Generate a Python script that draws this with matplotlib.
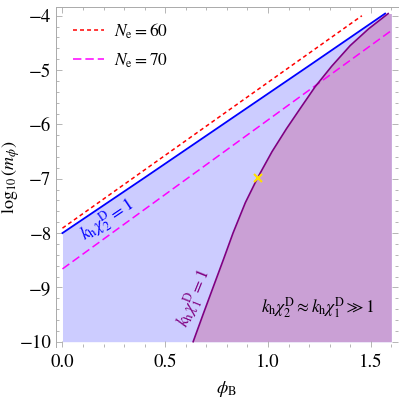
import matplotlib
matplotlib.use("Agg")
import matplotlib.pyplot as plt
from matplotlib.ticker import MultipleLocator, FormatStrFormatter
import numpy as np

plt.rcParams["font.family"] = ["STIXGeneral", "DejaVu Serif"]
plt.rcParams["mathtext.fontset"] = "stix"

# boundary k_h chi_2^D = 1 (blue line)
blue_x = [0.0, 0.4, 0.8, 1.2, 1.57]
blue_y = [-8.0, -6.98, -5.95, -4.92, -3.96]

# boundary k_h chi_1^D = 1 (purple curve)
purple_x = [0.636, 0.685, 0.733, 0.783, 0.83, 0.89, 0.95, 1.02, 1.09, 1.16, 1.229, 1.31, 1.4, 1.49, 1.585]
purple_y = [-10.0, -9.49, -9.0, -8.49, -8.0, -7.44, -6.98, -6.50, -6.08, -5.69, -5.31, -4.93, -4.55, -4.24, -3.96]

# N_e = 60 and N_e = 70 lines
ne60_x = [0.0, 1.457]
ne60_y = [-7.91, -4.0]
ne70_x = [0.0, 1.594]
ne70_y = [-8.66, -4.29]

# benchmark point
star_x = [0.95]
star_y = [-6.98]

x_max = 1.6
y_min, y_top = -10.0, -3.96

fig = plt.figure(figsize=(3.99, 3.99), dpi=100)
ax = fig.add_axes([0.1396, 0.1303, 0.858, 0.852])

# shaded regions
fx = np.append(blue_x, x_max)
fy = np.append(blue_y, y_top)
ax.fill_between(fx, y_min, fy, color="#ccccff", lw=0)
ax.fill_betweenx(purple_y, purple_x, x_max, color="#caa0d5", lw=0)

ax.plot(ne60_x, ne60_y, color="red", lw=1.1, ls=(0, (2.6, 2.0)), label=r"$N_{\mathrm{e}}=60$")
ax.plot(ne70_x, ne70_y, color="magenta", lw=1.1, ls=(0, (5.5, 2.6)), label=r"$N_{\mathrm{e}}=70$")
ax.plot(blue_x, blue_y, color="blue", lw=1.3)
ax.plot(purple_x, purple_y, color="#800080", lw=1.2)
ax.plot(star_x, star_y, "x", color="#ffe000", ms=6, mew=1.5)

ax.text(0.22, -7.76, r"$k_{\mathrm{h}}\chi_2^{\mathrm{D}}=1$", color="blue",
        fontsize=13, rotation=34, ha="center", va="center")
ax.text(0.64, -9.2, r"$k_{\mathrm{h}}\chi_1^{\mathrm{D}}=1$", color="#800080",
        fontsize=13, rotation=68, ha="center", va="center")
ax.text(1.243, -9.38, r"$k_{\mathrm{h}}\chi_2^{\mathrm{D}}\approx k_{\mathrm{h}}\chi_1^{\mathrm{D}}\gg 1$",
        color="black", fontsize=12.5, ha="center", va="center")

ax.legend(loc="upper left", bbox_to_anchor=(0.051, 0.958), frameon=False, fontsize=12.5,
          handlelength=1.75, handletextpad=0.6, labelspacing=0.6, borderpad=0, borderaxespad=0)

ax.set_xlim(-0.033, 1.633)
ax.set_ylim(-10.098, -3.84)
ax.xaxis.set_major_locator(MultipleLocator(0.5))
ax.xaxis.set_minor_locator(MultipleLocator(0.1))
ax.yaxis.set_major_locator(MultipleLocator(1))
ax.yaxis.set_minor_locator(MultipleLocator(0.2))
ax.tick_params(which="both", direction="in", top=True, right=True, color="#aaaaaa", width=0.6)
ax.tick_params(which="major", length=4, labelsize=13.5, pad=3)
ax.tick_params(which="minor", length=2)
ax.tick_params(axis="x", which="major", pad=5)
ax.xaxis.set_major_formatter(FormatStrFormatter("%.1f"))
for s in ["bottom", "right"]:
    ax.spines[s].set_visible(False)
for s in ["left", "top"]:
    ax.spines[s].set_color("#aaaaaa")
    ax.spines[s].set_linewidth(0.7)

ax.set_xlabel(r"$\phi_{\mathrm{B}}$", fontsize=13)
ax.set_ylabel(r"$\log_{10}(m_{\phi})$", fontsize=13)
ax.xaxis.set_label_coords(0.5, -0.095)
ax.yaxis.set_label_coords(-0.098, 0.5)

fig.savefig("out.png", dpi=100)
